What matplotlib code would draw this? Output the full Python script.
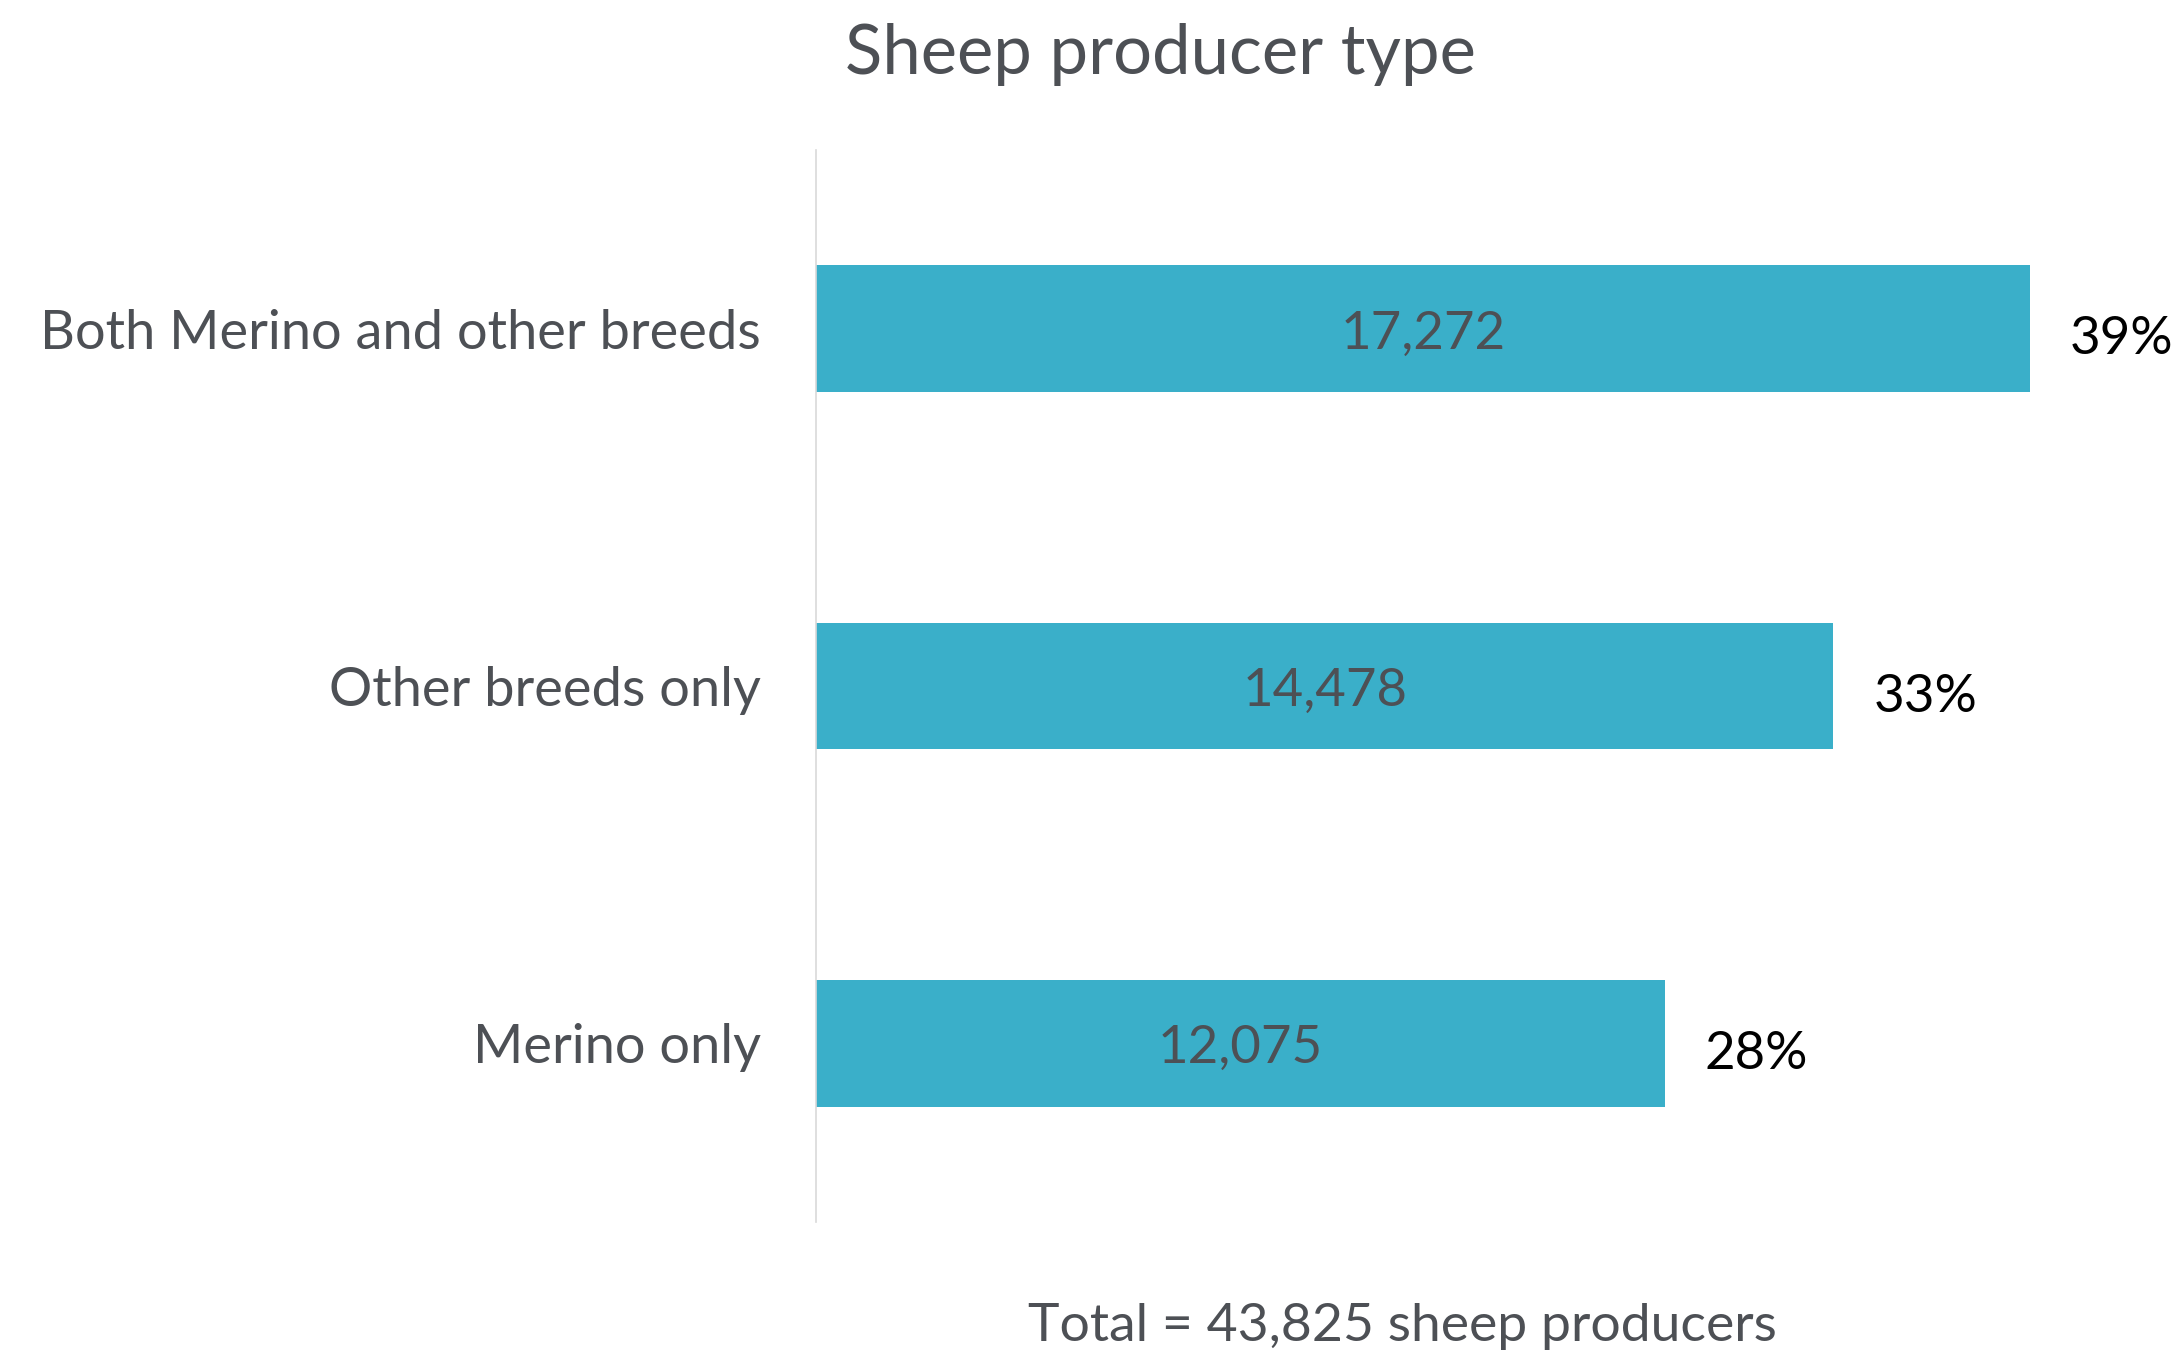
import matplotlib
matplotlib.use("Agg")
import matplotlib.pyplot as plt

categories = ["Merino only", "Other breeds only", "Both Merino and other breeds"]
values = [12075, 14478, 17272]
percents = ["28%", "33%", "39%"]
title = "Sheep producer type"
total_text = "Total = 43,825 sheep producers"

plt.rcParams['font.family'] = ['Lato', 'DejaVu Sans']
TXT = "#4d5055"
BAR = "#3aafc9"

W, H = 2183, 1352
fig = plt.figure(figsize=(W/100, H/100), dpi=100)
ax = fig.add_axes([816/W, 1-1222/H, (2081-816)/W, (1222-150)/H])

ypos = list(range(len(categories)))
bars = ax.barh(ypos, values, height=0.355, color=BAR, zorder=2)
ax.set_xlim(0, 18000)
ax.set_ylim(-0.5, 2.5)
ax.set_yticks(ypos)
ax.set_yticklabels(categories, fontsize=39, color=TXT)
ax.tick_params(axis='y', length=0, pad=39.6)
ax.set_xticks([])
for s in ['top', 'right', 'bottom']:
    ax.spines[s].set_visible(False)
ax.spines['left'].set_color('#d9d9d9')
ax.spines['left'].set_linewidth(1.2)

for y, v, p in zip(ypos, values, percents):
    ax.annotate(f"{v:,}", (v/2, y), xytext=(0, -4), textcoords='offset points',
                ha='center', va='center', fontsize=38, color=TXT)
    ax.annotate(p, (v, y), xytext=(28.8, -8), textcoords='offset points',
                ha='left', va='center', fontsize=38, color='black')

fig.text(1160/W, 1-54/H, title, ha='center', va='center', fontsize=49.5, color=TXT)
fig.text(1402/W, 1-1327/H, total_text, ha='center', va='center', fontsize=38.5, color=TXT)

fig.savefig("out.png", dpi=100, facecolor='white')
